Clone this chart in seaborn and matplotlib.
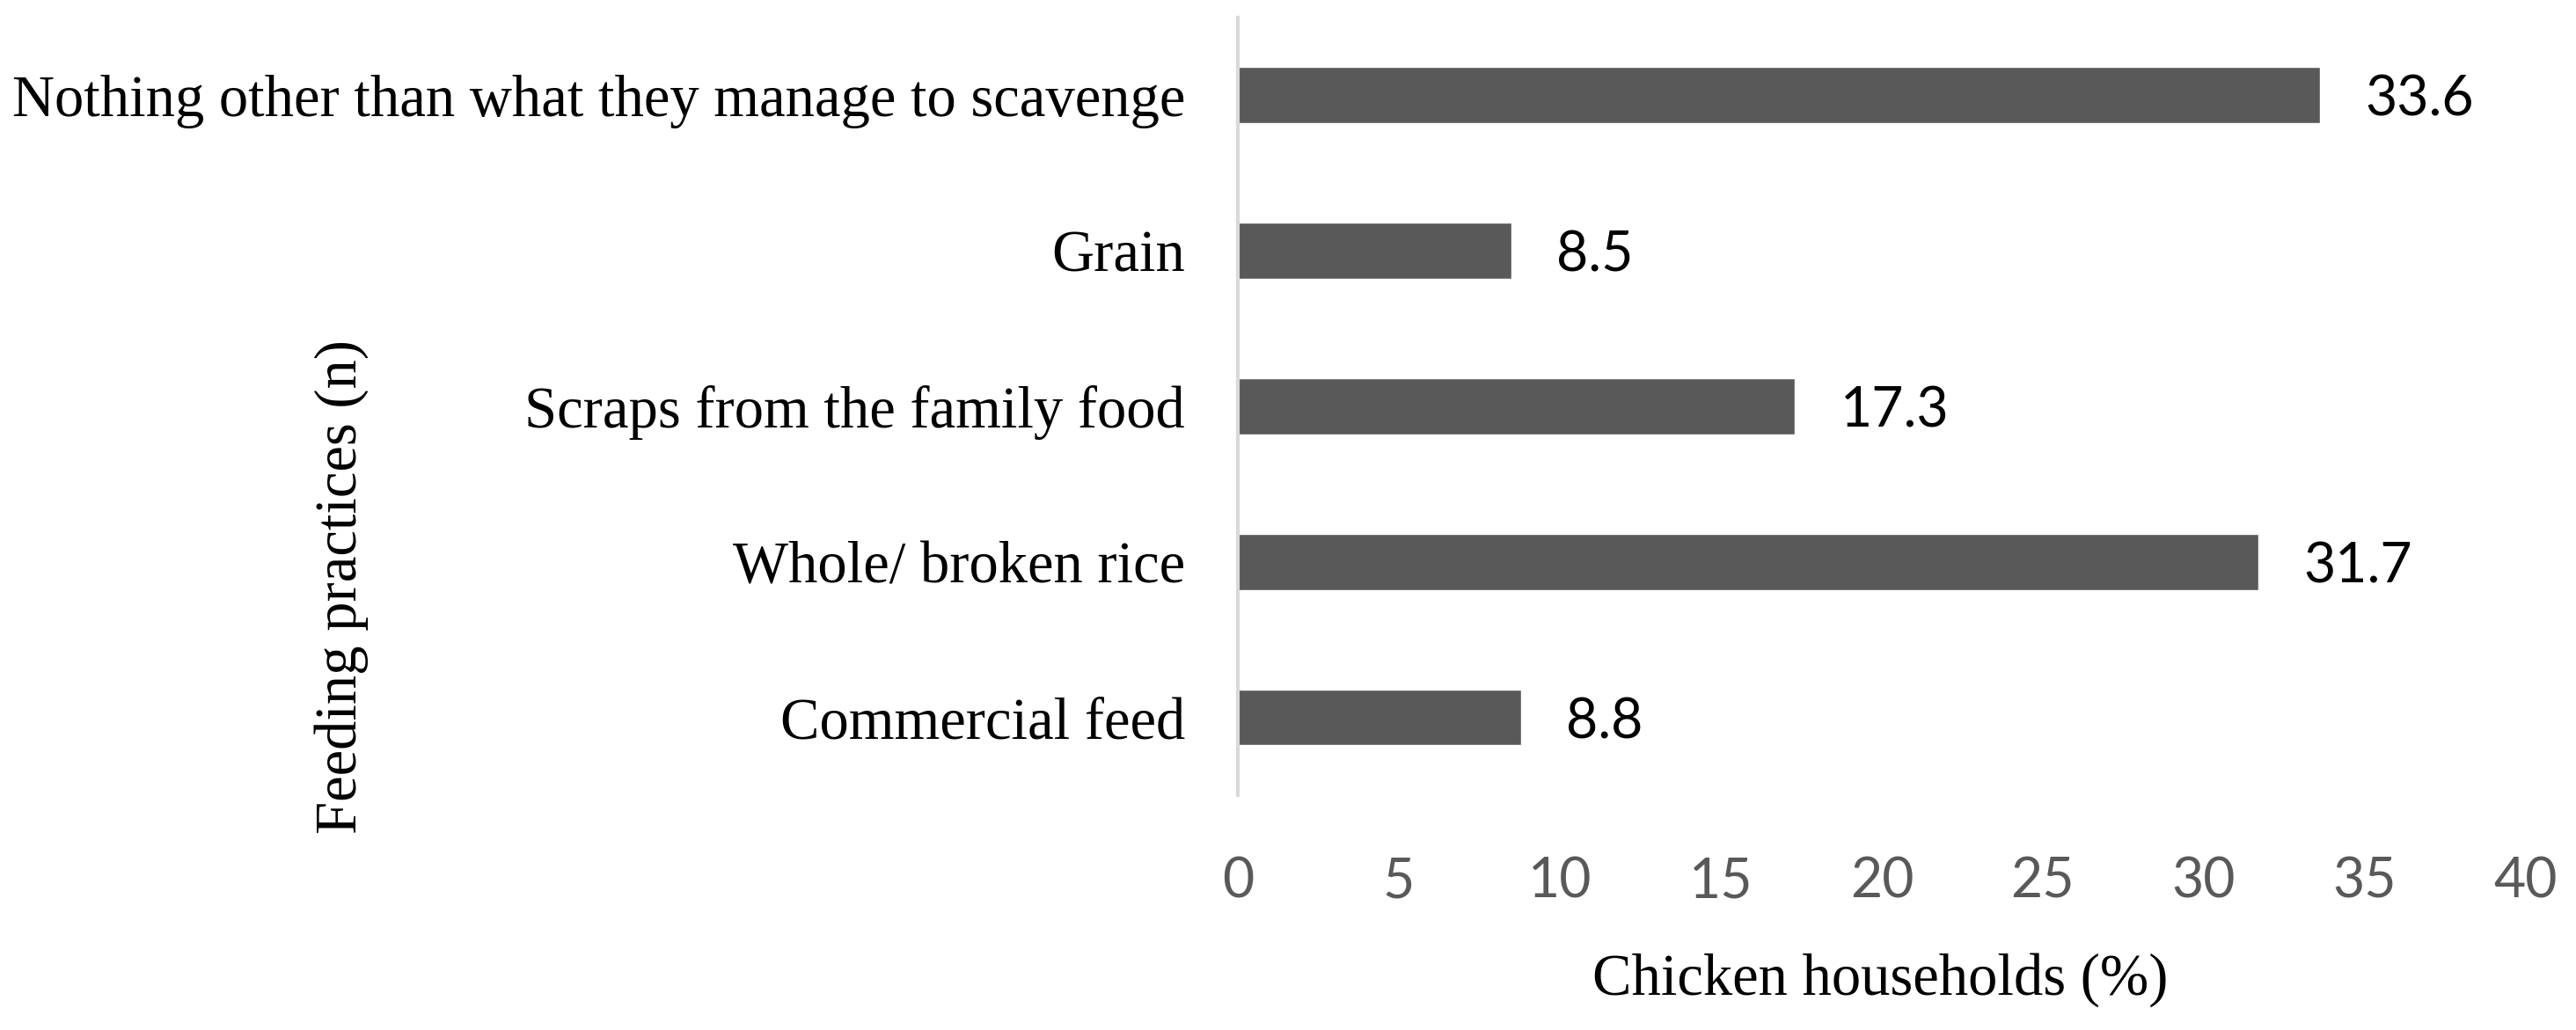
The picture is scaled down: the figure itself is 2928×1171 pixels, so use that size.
import matplotlib
matplotlib.use("Agg")
import matplotlib.pyplot as plt
import seaborn as sns

# ============================================================
# DATA
# ============================================================
categories = [
    "Nothing other than what they manage to scavenge",
    "Grain",
    "Scraps from the family food",
    "Whole/ broken rice",
    "Commercial feed",
]
households_pct = [33.6, 8.5, 17.3, 31.7, 8.8]
x_ticks = [0, 5, 10, 15, 20, 25, 30, 35, 40]

# ============================================================
# STYLE
# ============================================================
sns.set_theme(style="white")
plt.rcParams['font.family'] = ['Liberation Serif', 'DejaVu Sans']

bar_color = "#595959"
axis_gray = "#d9d9d9"

fig = plt.figure(figsize=(29.28, 11.71), dpi=100)
ax = fig.add_axes([0.4805, 0.228, 0.5, 0.755])

sns.barplot(x=households_pct, y=categories, orient="h", color=bar_color,
            saturation=1, width=0.36, ax=ax)

ax.set_xlim(0, 40)
ax.set_xticks(x_ticks)
ax.set_xticklabels([str(t) for t in x_ticks], family=['Lato', 'DejaVu Sans'],
                   fontsize=45, color="#595959")
ax.tick_params(axis="x", length=0, pad=50)
ax.tick_params(axis="y", length=0, pad=43, labelsize=48, labelcolor="black")

# bar value labels
for i, v in enumerate(households_pct):
    ax.annotate(f"{v}", xy=(v, i), xytext=(37, -4), textcoords="offset points",
                va="center", ha="left", fontsize=45, color="black",
                family=['Lato', 'DejaVu Sans'])

# spines
for s in ["top", "right", "bottom"]:
    ax.spines[s].set_visible(False)
ax.spines["left"].set_color(axis_gray)
ax.spines["left"].set_linewidth(3)
ax.grid(False)

ax.set_xlabel("Chicken households (%)", fontsize=48, color="black", va="center")
ax.xaxis.set_label_coords(0.499, -0.237)
ax.set_ylabel("Feeding practices (n)", fontsize=48, color="black", va="center")
ax.yaxis.set_label_coords(-0.696, 0.268)

fig.savefig("out.png", dpi=100, facecolor="white")
